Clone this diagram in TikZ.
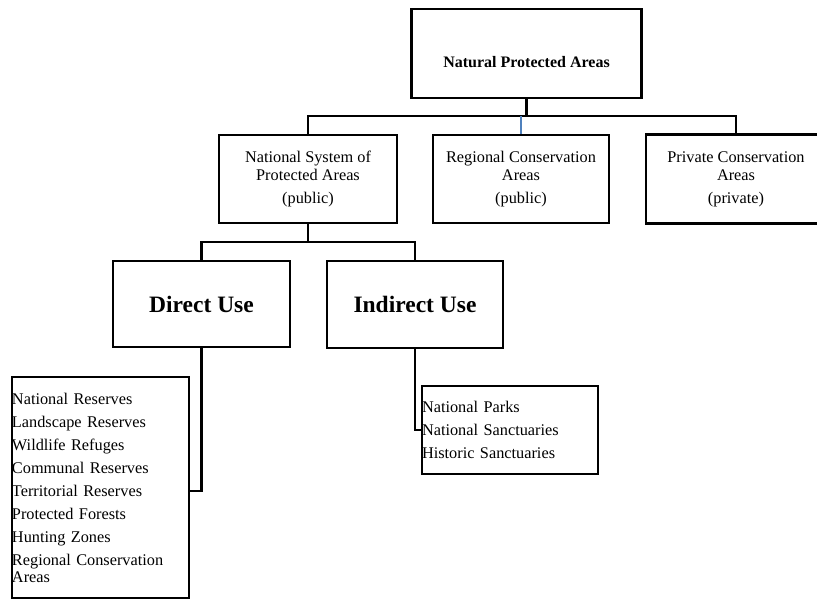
\documentclass[tikz,border=0pt]{standalone}
\usepackage{fontspec}
\setmainfont{Liberation Serif}
\definecolor{linkblue}{RGB}{79,129,189}
\begin{document}
\begin{tikzpicture}[x=1pt,y=-1pt,
  box/.style={draw=black, line width=2.3pt, inner sep=0pt, align=center,
              font=\fontsize{16.3}{18}\selectfont},
  headbox/.style={box, font=\bfseries\fontsize{16}{18}\selectfont},
  usebox/.style={box, font=\bfseries\fontsize{23.5}{26}\selectfont},
  listbox/.style={draw=black, line width=2.3pt, inner sep=0pt, align=left,
                  font=\fontsize{16.3}{17}\selectfont},
  link/.style={draw=black, line width=2.2pt},
  bluelink/.style={draw=linkblue, line width=1.5pt}
]
\useasboundingbox (0,0) rectangle (817,609);
\clip (0,0) rectangle (817,609);

% top level
\node[headbox, minimum width=230pt, minimum height=89pt] (top) at (526.5,53.5)
  {\raisebox{-14pt}[0pt][0pt]{Natural Protected Areas}};

% second level
\node[box, minimum width=178pt, minimum height=88pt] (nat) at (308,179)
  {National System of\\Protected Areas\\[5pt](public)};
\node[box, minimum width=176pt, minimum height=88pt] (reg) at (521,179)
  {Regional Conservation\\Areas\\[5pt](public)};
\node[box, minimum width=180pt, minimum height=89pt] (priv) at (736,179)
  {Private Conservation\\Areas\\[5pt](private)};

% use categories
\node[usebox, minimum width=177pt, minimum height=86pt] (direct) at (201.5,304) {Direct Use};
\node[usebox, minimum width=176pt, minimum height=87pt] (indirect) at (415,304.5) {Indirect Use};

% lists of area types
\node[listbox, text width=177pt, minimum height=221pt] (dlist) at (100.5,487.5)
  {National Reserves\\[6pt]Landscape Reserves\\[6pt]Wildlife Refuges\\[6pt]Communal Reserves\\[6pt]Territorial Reserves\\[6pt]Protected Forests\\[6pt]Hunting Zones\\[6pt]Regional Conservation\\Areas};
\node[listbox, text width=176pt, minimum height=88pt] (ilist) at (510,430)
  {National Parks\\[6pt]National Sanctuaries\\[6pt]Historic Sanctuaries};

% connectors
\coordinate (bus) at (526.5,116);
\draw[link] (top.south) -- (bus);
\draw[link] (nat.north) |- (bus) -| (priv.north);
\draw[bluelink] (bus -| reg.north) -- (reg.north);

\coordinate (fork) at (308,242);
\draw[link] (nat.south) -- (fork);
\draw[link] (direct.north) |- (fork) -| (indirect.north);

\draw[link] (direct.south) |- ([yshift=-3.5pt]dlist.east);
\draw[link] (indirect.south) |- (ilist.west);
\end{tikzpicture}
\end{document}
